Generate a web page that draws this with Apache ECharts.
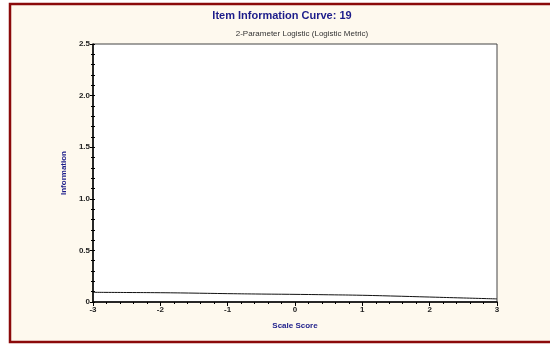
<!DOCTYPE html>
<html>
<head>
<meta charset="utf-8">
<script src="https://cdn.jsdelivr.net/npm/echarts@6/dist/echarts.min.js"></script>
<style>
  html, body { margin: 0; padding: 0; background: #fff; }
  #chart { width: 550px; height: 345px; }
</style>
</head>
<body>
<div id="chart"></div>
<script>
// scale score (theta) and item information
const scores = [-3, -2.5, -2, -1.5, -1, -0.5, 0, 0.5, 1, 1.5, 2, 2.5, 3]
const information = [0.094, 0.092, 0.090, 0.086, 0.081, 0.077, 0.074, 0.070, 0.065, 0.057, 0.048, 0.039, 0.030]

const navy = '#1c1c8a'
const labelFont = { fontFamily: 'Liberation Sans', fontSize: 8, fontWeight: 'bold', color: '#222' }

const chart = echarts.init(document.getElementById('chart'))
chart.setOption({
  animation: false,
  backgroundColor: '#fff',
  graphic: [{
    type: 'rect',
    z: -10,
    silent: true,
    shape: { x: 10, y: 4, width: 560, height: 338 },
    style: { fill: '#fef9ee', stroke: '#8b0a0a', lineWidth: 2.5 }
  }],
  title: [{
    text: 'Item Information Curve: 19',
    left: 277,
    textAlign: 'center',
    top: 5,
    textStyle: { fontFamily: 'Liberation Sans', fontSize: 11, fontWeight: 'bold', color: navy }
  }, {
    text: '2-Parameter Logistic (Logistic Metric)',
    left: 297,
    textAlign: 'center',
    top: 25,
    textStyle: { fontFamily: 'Liberation Sans', fontSize: 8, fontWeight: 'normal', color: '#333' }
  }],
  grid: {
    left: 93,
    right: 53,
    top: 44,
    bottom: 43,
    show: true,
    backgroundColor: '#fff',
    borderColor: '#444',
    borderWidth: 1
  },
  xAxis: {
    type: 'value',
    min: -3,
    max: 3,
    interval: 1,
    name: 'Scale Score',
    nameLocation: 'middle',
    nameGap: 20,
    nameTextStyle: { fontFamily: 'Liberation Sans', fontSize: 8, fontWeight: 'bold', color: navy },
    axisLine: { onZero: false, lineStyle: { color: '#000', width: 1.5 } },
    axisTick: { length: 4, lineStyle: { color: '#000', width: 1 } },
    minorTick: { show: true, splitNumber: 5, length: 2, lineStyle: { color: '#000', width: 1 } },
    axisLabel: Object.assign({ margin: 4 }, labelFont),
    splitLine: { show: false }
  },
  yAxis: [{
    type: 'value',
    min: 0,
    max: 2.5,
    interval: 0.5,
    name: 'Information',
    nameLocation: 'middle',
    nameGap: 24,
    nameTextStyle: { fontFamily: 'Liberation Sans', fontSize: 8, fontWeight: 'bold', color: navy },
    axisLine: { show: true, onZero: false, lineStyle: { color: '#000', width: 1.5 } },
    axisTick: { length: 3, lineStyle: { color: '#000', width: 1 } },
    minorTick: { show: true, splitNumber: 5, length: 2, lineStyle: { color: '#000', width: 1 } },
    axisLabel: Object.assign({
      margin: 3,
      formatter: v => v === 0 ? '0' : v.toFixed(1)
    }, labelFont),
    splitLine: { show: false }
  }, {
    type: 'value',
    position: 'left',
    min: 0,
    max: 2.5,
    interval: 0.5,
    axisLine: { show: false, onZero: false },
    axisTick: { inside: true, length: 2, lineStyle: { color: '#000', width: 1 } },
    minorTick: { show: true, splitNumber: 5, length: 2, lineStyle: { color: '#000', width: 1 } },
    axisLabel: { show: false },
    splitLine: { show: false }
  }],
  series: [{
    type: 'line',
    smooth: true,
    symbol: 'none',
    lineStyle: { color: '#111', width: 1 },
    data: scores.map((s, i) => [s, information[i]])
  }]
})
</script>
</body>
</html>
